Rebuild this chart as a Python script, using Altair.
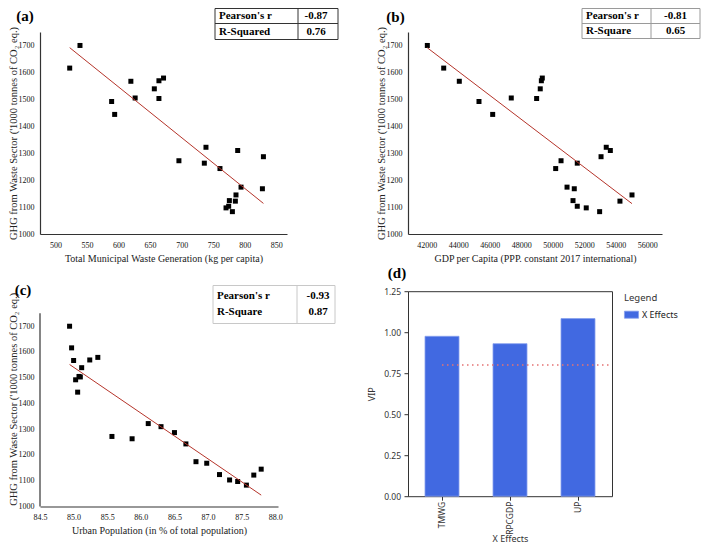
import altair as alt
import pandas as pd

# ---------------- data ----------------
ghg = [1700, 1616, 1567, 1492, 1444, 1505, 1503, 1539, 1569, 1579, 1272, 1263,
       1322, 1310, 1287, 1243, 1174, 1168, 1124, 1103, 1097, 1083, 1122, 1145]
tmwg = [538.8, 522.5, 619.5, 589.0, 593.8, 626.3, 664.0, 656.7, 664.0, 671.3, 695.7, 736.0,
        738.6, 788.9, 829.7, 760.8, 794.2, 828.1, 775.7, 774.6, 770.4, 780.5, 785.2, 786.2]
gdp = [42040, 43080, 44070, 45320, 46190, 47370, 48980, 49210, 49280, 49340, 50530, 51560,
       53400, 53660, 53070, 50190, 50910, 51370, 51290, 51560, 52130, 52980, 54270, 55035]
urban = [84.94, 84.97, 85.00, 85.03, 85.06, 85.08, 85.10, 85.12, 85.24, 85.36, 85.57, 85.87,
         86.11, 86.30, 86.50, 86.67, 86.82, 86.98, 87.17, 87.32, 87.44, 87.57, 87.68, 87.79]

vip_vars = ["TMWG", "RPCGDP", "UP"]
vip_vals = [0.975, 0.93, 1.083]
vip_threshold = 0.8
vip_series = "X Effects"

stats_a = [["Pearson's r", "-0.87"], ["R-Squared", "0.76"]]
stats_b = [["Pearson's r", "-0.81"], ["R-Square", "0.65"]]
stats_c = [["Pearson's r", "-0.93"], ["R-Square", "0.87"]]

ghg_ticks = [1000, 1100, 1200, 1300, 1400, 1500, 1600, 1700]
tmwg_ticks = [500, 550, 600, 650, 700, 750, 800, 850]
gdp_ticks = [42000, 44000, 46000, 48000, 50000, 52000, 54000, 56000]
urban_ticks = [84.5, 85.0, 85.5, 86.0, 86.5, 87.0, 87.5, 88.0]
vip_ticks = [0.0, 0.25, 0.5, 0.75, 1.0, 1.25]

df = pd.DataFrame({"ghg": ghg, "tmwg": tmwg, "gdp": gdp, "urban": urban})
vip_df = pd.DataFrame({"var": vip_vars, "vip": vip_vals, "series": [vip_series] * len(vip_vars)})

# ---------------- styling ----------------
SERIF = "Liberation Serif"
SANS = "Noto Sans"
RED = "#B5342A"
BLUE = "#4169E1"
ONE = alt.Data(values=[{"k": 0}])
YTITLE = "GHG from Waste Sector ('1000 tonnes of CO\u2082 eq.)"

WA, HA = 247, 202
WB, HB = 254, 202
WC, HC = 238, 215.3
WD, HD = 204, 205
Y_TOP = 1750          # top of the drawn y-axis line
C_YDOM = [1000, 1836]  # panel (c) y-scale (extra headroom above the axis line)

XAX = dict(labelFont=SERIF, labelFontSize=8, labelColor="#111", labelPadding=7,
           labelFlush=False, labelOverlap=False, ticks=False, grid=False,
           domainColor="#333", domainWidth=1.2, titleFont=SERIF, titleFontSize=10,
           titleFontWeight="normal", titleColor="#222", titlePadding=4)
YAX = dict(labelFont=SERIF, labelFontSize=8, labelColor="#111", labelPadding=6,
           labelOverlap=False, ticks=False, grid=False, domainColor="#333",
           domainWidth=1.2, titleFont=SERIF, titleFontSize=10.5,
           titleFontWeight="normal", titleColor="#222", titlePadding=0)


def ann_text(txt, x, y, size, weight="bold", align="left", font=SERIF, color="black"):
    return alt.Chart(ONE).mark_text(
        text=txt, font=font, fontSize=size, fontWeight=weight, align=align,
        baseline="middle", color=color
    ).encode(x=alt.value(x), y=alt.value(y))


def table(x0, x1, xdiv, y0, ymid, y1, rows, border, hline, lab_x, val_x, row_y, size=11):
    layers = [
        alt.Chart(ONE).mark_rect(fill="white", stroke=border, strokeWidth=1).encode(
            x=alt.value(x0), x2=alt.value(x1), y=alt.value(y0), y2=alt.value(y1)),
        alt.Chart(ONE).mark_rule(color=border, strokeWidth=1).encode(
            x=alt.value(xdiv), y=alt.value(y0), y2=alt.value(y1)),
    ]
    if hline:
        layers.append(alt.Chart(ONE).mark_rule(color=border, strokeWidth=1).encode(
            x=alt.value(x0), x2=alt.value(x1), y=alt.value(ymid)))
    for (lab, val), ry in zip(rows, row_y):
        layers.append(ann_text(lab, lab_x, ry, size))
        layers.append(ann_text(val, val_x, ry, size, align="center"))
    return layers


def scatter(xcol, xtitle, xdom, xticks, xfmt, w, h, ydom, extra, ydomain_line=True):
    xenc = alt.X(f"{xcol}:Q", scale=alt.Scale(domain=xdom, nice=False, zero=False),
                 axis=alt.Axis(values=xticks, format=xfmt, title=xtitle, **XAX))
    yenc = alt.Y("ghg:Q", scale=alt.Scale(domain=ydom, nice=False, zero=False),
                 axis=alt.Axis(values=ghg_ticks, format="d", title=YTITLE,
                               domain=ydomain_line, **YAX))
    base = alt.Chart(df)
    fit = base.transform_regression(xcol, "ghg").mark_line(
        color=RED, strokeWidth=1).encode(x=xenc, y=yenc)
    pts = base.mark_square(size=25, color="black", opacity=1).encode(x=xenc, y=yenc)
    return alt.layer(pts, fit, *extra).properties(width=w, height=h)


# (a)
pa = scatter("tmwg", "Total Municipal Waste Generation (kg per capita)",
             [475.4, 867.1], tmwg_ticks, "d", WA, HA, [1000, Y_TOP],
             table(175, 298, 258, -23.5, -8.5, 7.5, stats_a, "#333", True,
                   179, 276, [-16, -0.5]) + [ann_text("(a)", -15, -16.5, 15, align="center")])

# (b)
pb = scatter("gdp", "GDP per Capita (PPP. constant 2017 international)",
             [40813, 56940], gdp_ticks, "d", WB, HB, [1000, Y_TOP],
             table(174, 292, 243, -23.5, -8.5, 6.5, stats_b, "#9a9a9a", True,
                   178, 267.5, [-16, -1]) + [ann_text("(b)", -12.5, -15.5, 15, align="center")])

# (c): y-axis line drawn only up to Y_TOP
c_top_px = HC * (C_YDOM[1] - Y_TOP) / (C_YDOM[1] - C_YDOM[0])
c_axis = alt.Chart(ONE).mark_rule(color="#333", strokeWidth=1.2).encode(
    x=alt.value(0), y=alt.value(c_top_px), y2=alt.value(HC))
pc = scatter("urban", "Urban Population (in % of total population)",
             [84.5, 88.04], urban_ticks, ".1f", WC, HC, C_YDOM,
             [c_axis] + table(173, 295, 257, -5.7, 13, 32.3, stats_c, "#c8c8c8", False,
                              177, 278, [4.3, 21]) +
             [ann_text("(c)", -17, -1.7, 15, align="center")],
             ydomain_line=False)

# (d)
DAX = dict(labelFont=SANS, labelFontSize=8.5, labelColor="#333", titleFont=SANS,
           titleFontSize=9, titleFontWeight="normal", titleColor="#333", grid=False,
           domain=False, ticks=True, tickColor="#333", tickSize=4, labelOverlap=False)
bars = alt.Chart(vip_df).mark_bar(stroke="#86A0EE", strokeWidth=0.8).encode(
    x=alt.X("var:N", sort=vip_vars,
            scale=alt.Scale(paddingInner=0.5, paddingOuter=0.25),
            axis=alt.Axis(title="X Effects", labelAngle=-90, labelPadding=1,
                          titlePadding=0, **DAX)),
    y=alt.Y("vip:Q", scale=alt.Scale(domain=[0, 1.25], nice=False),
            axis=alt.Axis(values=vip_ticks, format=".2f", title="VIP",
                          labelPadding=3.5, titlePadding=7, **DAX)),
    color=alt.Color("series:N", scale=alt.Scale(range=[BLUE]),
                    legend=alt.Legend(title="Legend", orient="none", legendX=216, legendY=1.5,
                                      symbolType="M-1,-0.5H1V0.5H-1Z", symbolSize=200,
                                      symbolStrokeColor="#86A0EE", symbolStrokeWidth=0.8,
                                      symbolOpacity=1, titleFont=SANS, titleFontSize=9.5,
                                      titleFontWeight="normal", titleColor="#333",
                                      labelFont=SANS, labelFontSize=9, labelColor="#222",
                                      titlePadding=5, labelOffset=3)),
)
thr = alt.Chart(ONE).mark_rule(color="#E57373", strokeWidth=1.5, strokeDash=[1.5, 3.5]).encode(
    x=alt.XDatum(vip_vars[0], bandPosition=0.5), x2=alt.value(WD),
    y=alt.YDatum(vip_threshold))
pd_ = alt.layer(bars, thr, ann_text("(d)", -11, -18.7, 15, align="center")).properties(
    width=WD, height=HD, view=alt.ViewBackground(stroke="#333", strokeWidth=1))

chart = alt.concat(pa, pb, pc, pd_, columns=2, spacing={"row": 57.2, "column": 121},
                   bounds="flush", align="each").resolve_scale(
    color="independent").resolve_legend(color="independent").properties(
    padding=0, background="white").configure_view(stroke=None).configure_axis(
    labelOverlap=False)

chart.save("out.html", embed_options={"renderer": "svg", "actions": False})
